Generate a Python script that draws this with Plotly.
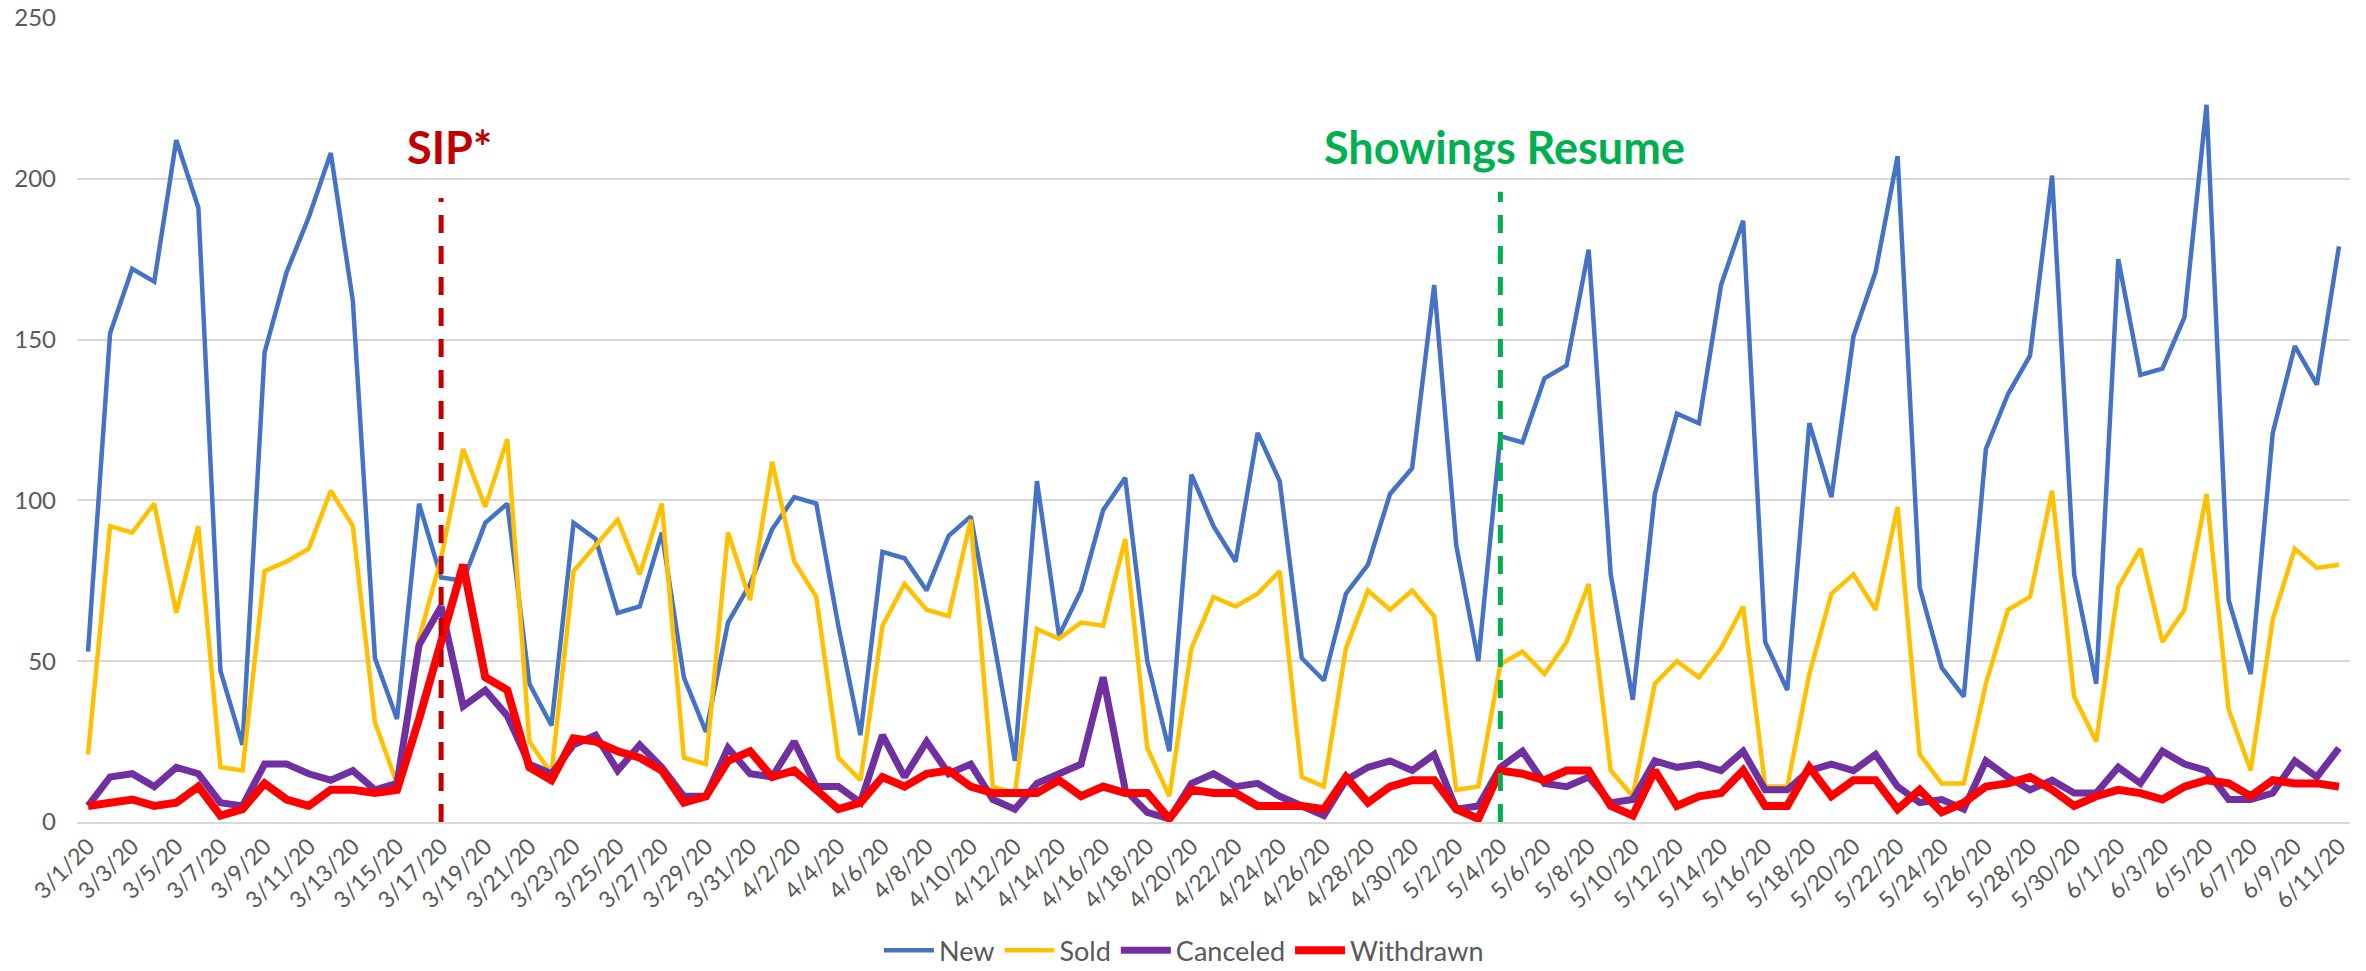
import pandas as pd
import plotly.graph_objects as go

dates = [f"{d.month}/{d.day}/{d.year % 100}" for d in pd.date_range("2020-03-01", "2020-06-11")]

new = [53, 152, 172, 168, 212, 191, 47, 24, 146, 171,
       188, 208, 162, 51, 32, 99, 76, 75, 93, 99,
       43, 30, 93, 88, 65, 67, 90, 45, 28, 62,
       74, 91, 101, 99, 61, 27, 84, 82, 72, 89,
       95, 58, 19, 106, 58, 72, 97, 107, 50, 22,
       108, 92, 81, 121, 106, 51, 44, 71, 80, 102,
       110, 167, 86, 50, 120, 118, 138, 142, 178, 77,
       38, 102, 127, 124, 167, 187, 56, 41, 124, 101,
       151, 171, 207, 73, 48, 39, 116, 133, 145, 201,
       77, 43, 175, 139, 141, 157, 223, 69, 46, 121,
       148, 136, 179]

sold = [21, 92, 90, 99, 65, 92, 17, 16, 78, 81,
        85, 103, 92, 31, 12, 57, 82, 116, 98, 119,
        25, 15, 78, 86, 94, 77, 99, 20, 18, 90,
        69, 112, 81, 70, 20, 13, 61, 74, 66, 64,
        94, 11, 9, 60, 57, 62, 61, 88, 23, 8,
        54, 70, 67, 71, 78, 14, 11, 54, 72, 66,
        72, 64, 10, 11, 49, 53, 46, 56, 74, 16,
        8, 43, 50, 45, 54, 67, 11, 11, 46, 71,
        77, 66, 98, 21, 12, 12, 43, 66, 70, 103,
        39, 25, 73, 85, 56, 66, 102, 35, 16, 63,
        85, 79, 80]

canceled = [5, 14, 15, 11, 17, 15, 6, 5, 18, 18,
            15, 13, 16, 10, 12, 55, 67, 36, 41, 33,
            18, 15, 24, 27, 16, 24, 17, 8, 8, 23,
            15, 14, 25, 11, 11, 6, 27, 14, 25, 15,
            18, 7, 4, 12, 15, 18, 45, 10, 3, 1,
            12, 15, 11, 12, 8, 5, 2, 13, 17, 19,
            16, 21, 4, 5, 17, 22, 12, 11, 14, 6,
            7, 19, 17, 18, 16, 22, 10, 10, 16, 18,
            16, 21, 11, 6, 7, 4, 19, 14, 10, 13,
            9, 9, 17, 12, 22, 18, 16, 7, 7, 9,
            19, 14, 23]

withdrawn = [5, 6, 7, 5, 6, 11, 2, 4, 12, 7,
             5, 10, 10, 9, 10, 32, 55, 80, 45, 41,
             17, 13, 26, 25, 22, 20, 16, 6, 8, 19,
             22, 14, 16, 10, 4, 6, 14, 11, 15, 16,
             11, 9, 9, 9, 13, 8, 11, 9, 9, 1,
             10, 9, 9, 5, 5, 5, 4, 14, 6, 11,
             13, 13, 4, 1, 16, 15, 13, 16, 16, 5,
             2, 16, 5, 8, 9, 16, 5, 5, 17, 8,
             13, 13, 4, 10, 3, 6, 11, 12, 14, 10,
             5, 8, 10, 9, 7, 11, 13, 12, 8, 13,
             12, 12, 11]

series_names = ["New", "Sold", "Canceled", "Withdrawn"]
series_values = [new, sold, canceled, withdrawn]
series_colors = ["#4472C4", "#FFC000", "#7030A0", "#FF0000"]
series_widths = [4.5, 4.5, 7, 8]

events = [("3/17/20", "SIP*", "#C00000", 194, 8),
          ("5/4/20", "Showings Resume", "#00B050", 196, 4)]

y_ticks = [0, 50, 100, 150, 200, 250]

fig = go.Figure()
for name, vals, col, w in zip(series_names, series_values, series_colors, series_widths):
    fig.add_trace(go.Scatter(x=dates, y=vals, name=name, mode="lines",
                             line=dict(color=col, width=w)))

for xd, label, col, ytop, xs in events:
    fig.add_shape(type="line", xref="x", yref="y", x0=xd, x1=xd, y0=0, y1=ytop,
                  line=dict(color=col, width=5, dash="18px,13px"))
    fig.add_annotation(x=xd, y=210, xref="x", yref="y", text=f"<b>{label}</b>",
                       showarrow=False, xshift=xs,
                       font=dict(family="Lato", size=45, color=col))

fig.update_layout(
    width=2366, height=971,
    margin=dict(l=77, r=16, t=18, b=149, autoexpand=False),
    plot_bgcolor="white", paper_bgcolor="white",
    font=dict(family="Lato", color="#595959"),
    showlegend=True,
    legend=dict(orientation="h", x=0.487, xanchor="center", y=-0.16, yanchor="middle",
                font=dict(size=27, color="#595959"), itemwidth=50),
)
fig.update_xaxes(type="category", range=[-0.5, len(dates) - 0.5],
                 tickmode="array", tickvals=dates[::2], ticktext=dates[::2],
                 tickangle=-45, tickfont=dict(size=23, color="#595959"),
                 showgrid=False, showline=True, linecolor="#D9D9D9", linewidth=1.5,
                 ticks="", automargin=False)
fig.update_yaxes(range=[0, 250], tickvals=y_ticks, showgrid=True, gridcolor="#D9D9D9",
                 gridwidth=1.5, zeroline=False, showline=False, automargin=False,
                 tickfont=dict(size=24, color="#595959"), ticklabelstandoff=20)

fig.write_html("out.html", config={"displayModeBar": False},
               post_script="document.body.style.margin='0';document.body.style.overflow='hidden';")
